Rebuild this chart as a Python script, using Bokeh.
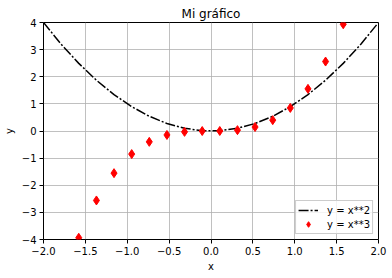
from bokeh.plotting import figure
from bokeh.models import FixedTicker, Range1d, ColumnDataSource, Legend, LegendItem
from bokeh.embed import file_html
from bokeh.resources import INLINE

x_vals = [-2.0, -1.789, -1.579, -1.368, -1.158, -0.947, -0.737, -0.526, -0.316, -0.105,
          0.105, 0.316, 0.526, 0.737, 0.947, 1.158, 1.368, 1.579, 1.789, 2.0]
y_sq = [4.0, 3.2, 2.493, 1.872, 1.341, 0.898, 0.543, 0.277, 0.1, 0.011,
        0.011, 0.1, 0.277, 0.543, 0.898, 1.341, 1.872, 2.493, 3.2, 4.0]
y_cube = [-8.0, -5.726, -3.936, -2.561, -1.553, -0.851, -0.400, -0.146, -0.032, -0.001,
          0.001, 0.032, 0.146, 0.400, 0.851, 1.553, 2.561, 3.936, 5.726, 8.0]

x_ticks = [-2.0, -1.5, -1.0, -0.5, 0.0, 0.5, 1.0, 1.5, 2.0]
x_tick_labels = ["\u22122.0", "\u22121.5", "\u22121.0", "\u22120.5", "0.0", "0.5", "1.0", "1.5", "2.0"]
y_ticks = [-4, -3, -2, -1, 0, 1, 2, 3, 4]
y_tick_labels = ["\u22124", "\u22123", "\u22122", "\u22121", "0", "1", "2", "3", "4"]

FONT = "DejaVu Sans"

p = figure(width=392, height=278, output_backend="svg", toolbar_location=None,
           x_range=Range1d(-2, 2), y_range=Range1d(-4, 4),
           min_border_left=42, min_border_right=14, min_border_top=22, min_border_bottom=39)
p.title.text = "Mi gráfico"
p.title.align = "center"
p.title.text_font = FONT
p.title.text_font_size = "12px"
p.title.text_font_style = "normal"
p.title.text_color = "black"
p.title.offset = 0
p.title.standoff = 3

p.outline_line_color = "black"
p.outline_line_width = 1
p.background_fill_color = "white"
p.border_fill_color = "white"

p.xaxis.ticker = FixedTicker(ticks=x_ticks)
p.xaxis.major_label_overrides = {t: l for t, l in zip(x_ticks, x_tick_labels)}
p.yaxis.ticker = FixedTicker(ticks=y_ticks)
p.yaxis.major_label_overrides = {t: l for t, l in zip(y_ticks, y_tick_labels)}

for ax in (p.xaxis[0], p.yaxis[0]):
    ax.axis_line_color = None
    ax.major_tick_in = 0
    ax.major_tick_out = 4
    ax.major_tick_line_color = "black"
    ax.minor_tick_line_color = None
    ax.major_label_text_font = FONT
    ax.major_label_text_font_size = "10px"
    ax.major_label_text_color = "black"
    ax.axis_label_text_font = FONT
    ax.axis_label_text_font_size = "10px"
    ax.axis_label_text_font_style = "normal"
    ax.axis_label_text_color = "black"
    ax.major_label_standoff = 3

p.xaxis.axis_label = "x"
p.yaxis.axis_label = "y"
p.xaxis.axis_label_standoff = 3
p.yaxis.axis_label_standoff = 4
p.yaxis.major_label_orientation = "horizontal"

p.xgrid.ticker = FixedTicker(ticks=x_ticks)
p.ygrid.ticker = FixedTicker(ticks=y_ticks)
p.grid.grid_line_color = "#b0b0b0"
p.grid.grid_line_width = 0.8
p.grid.grid_line_alpha = 1.0

src = ColumnDataSource(dict(x=x_vals, y2=y_sq, y3=y_cube))
r_line = p.line("x", "y2", source=src, line_color="black", line_width=1.5, line_dash="10 2 2 2")
r_pts = p.scatter("x", "y3", source=src, marker="diamond", size=9,
                  fill_color="red", line_color="red", line_width=1)

legend = Legend(items=[LegendItem(label="y = x**2", renderers=[r_line]),
                       LegendItem(label="y = x**3", renderers=[r_pts])],
                location="bottom_right")
legend.label_text_font = FONT
legend.label_text_font_size = "10px"
legend.label_text_color = "black"
legend.border_line_color = "#cccccc"
legend.border_line_alpha = 1
legend.background_fill_alpha = 0.8
legend.glyph_width = 20
legend.glyph_height = 14
legend.label_height = 14
legend.spacing = 0
legend.padding = 2
legend.margin = 5
legend.label_standoff = 9
p.add_layout(legend, "center")

open("out.html", "w").write(file_html(p, INLINE))
